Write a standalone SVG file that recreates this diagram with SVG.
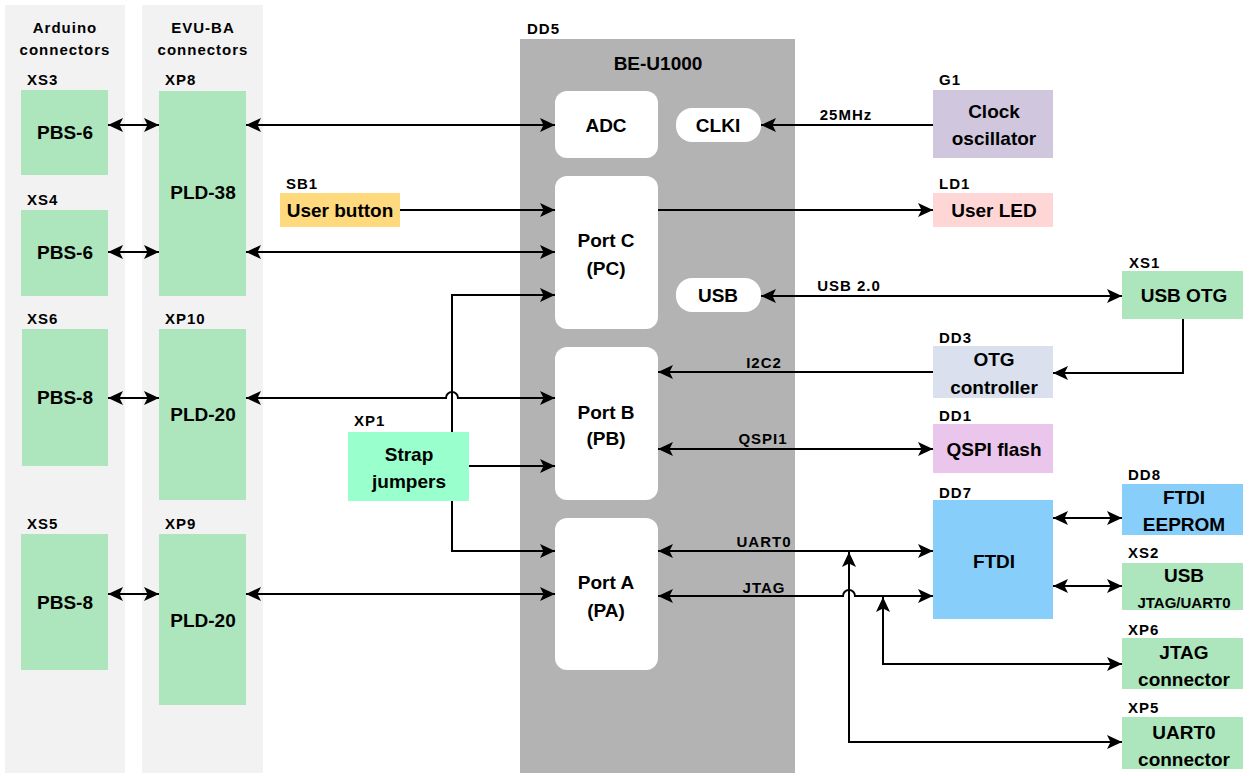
<svg xmlns="http://www.w3.org/2000/svg" width="1249" height="776" viewBox="0 0 1249 776">
<style>
text{font-family:"Liberation Sans",Arial,sans-serif;font-weight:bold;fill:#000}
.lbl{font-size:15px;letter-spacing:1px}
.t{font-size:19px;text-anchor:middle}
.ts{font-size:15px;text-anchor:middle}
.el{font-size:15px;letter-spacing:1px;text-anchor:middle}
.panel{fill:#f2f2f2}
.g{fill:#ade6bd}
.blk{fill:#fff}
.ln{fill:none;stroke:#000;stroke-width:2}
.a2{marker-start:url(#ah);marker-end:url(#ah)}
.a1{marker-end:url(#ah)}
</style>
<defs>
<marker id="ah" markerUnits="userSpaceOnUse" markerWidth="16" markerHeight="16" refX="15" refY="7" orient="auto-start-reverse" viewBox="0 0 16 14">
<path d="M0,0 L15,7 L0,14 L3.5,7 z" fill="#000"/>
</marker>
</defs>
<rect width="1249" height="776" fill="#fff"/>

<g id="panel-arduino">
<rect class="panel" x="5" y="5" width="120" height="768"/>
<text class="lbl" x="65" y="33" text-anchor="middle">Arduino</text>
<text class="lbl" x="65" y="55" text-anchor="middle">connectors</text>
</g>
<g id="panel-evu">
<rect class="panel" x="142" y="5" width="121" height="768"/>
<text class="lbl" x="203" y="33" text-anchor="middle">EVU-BA</text>
<text class="lbl" x="203" y="55" text-anchor="middle">connectors</text>
</g>

<g id="XS3"><text class="lbl" x="27" y="85">XS3</text><rect class="g" x="21" y="90" width="87" height="85"/><text class="t" x="65" y="139">PBS-6</text></g>
<g id="XS4"><text class="lbl" x="27" y="205">XS4</text><rect class="g" x="21" y="210" width="87" height="86"/><text class="t" x="65" y="259">PBS-6</text></g>
<g id="XS6"><text class="lbl" x="27" y="324">XS6</text><rect class="g" x="22" y="329" width="86" height="137"/><text class="t" x="65" y="404">PBS-8</text></g>
<g id="XS5"><text class="lbl" x="27" y="529">XS5</text><rect class="g" x="21" y="534" width="87" height="136"/><text class="t" x="65" y="609">PBS-8</text></g>

<g id="XP8"><text class="lbl" x="165" y="85">XP8</text><rect class="g" x="159" y="91" width="87" height="205"/><text class="t" x="203" y="199">PLD-38</text></g>
<g id="XP10"><text class="lbl" x="165" y="324">XP10</text><rect class="g" x="159" y="329" width="87" height="171"/><text class="t" x="203" y="421">PLD-20</text></g>
<g id="XP9"><text class="lbl" x="165" y="529">XP9</text><rect class="g" x="159" y="534" width="87" height="171"/><text class="t" x="203" y="627">PLD-20</text></g>

<g id="DD5">
<text class="lbl" x="527" y="34">DD5</text>
<rect x="520" y="39" width="275" height="734" fill="#b3b3b3"/>
<text x="658" y="70" font-size="19" text-anchor="middle">BE-U1000</text>
</g>
<g id="ADC"><rect class="blk" x="555" y="91" width="103" height="67" rx="12"/><text class="t" x="606" y="132">ADC</text></g>
<g id="CLKI"><rect class="blk" x="676" y="108" width="85" height="34" rx="16"/><text class="t" x="718" y="132">CLKI</text></g>
<g id="PortC"><rect class="blk" x="555" y="176" width="103" height="153" rx="12"/><text class="t" x="606" y="247">Port C</text><text class="t" x="606" y="275">(PC)</text></g>
<g id="USB"><rect class="blk" x="676" y="278" width="85" height="34" rx="16"/><text class="t" x="718" y="302">USB</text></g>
<g id="PortB"><rect class="blk" x="555" y="347" width="103" height="153" rx="12"/><text class="t" x="606" y="419">Port B</text><text class="t" x="606" y="445">(PB)</text></g>
<g id="PortA"><rect class="blk" x="555" y="518" width="103" height="152" rx="12"/><text class="t" x="606" y="589">Port A</text><text class="t" x="606" y="617">(PA)</text></g>

<g id="SB1"><text class="lbl" x="286" y="189">SB1</text><rect x="280" y="193" width="120" height="34" fill="#ffd97e"/><text class="t" x="340" y="217">User button</text></g>
<g id="XP1"><text class="lbl" x="354" y="426">XP1</text><rect x="348" y="432" width="121" height="69" fill="#99ffcc"/><text class="t" x="409" y="461">Strap</text><text class="t" x="409" y="488">jumpers</text></g>

<g id="G1"><text class="lbl" x="939" y="85">G1</text><rect x="933" y="90" width="120" height="68" fill="#d0c7de"/><text class="t" x="994" y="118">Clock</text><text class="t" x="994" y="145">oscillator</text></g>
<g id="LD1"><text class="lbl" x="939" y="189">LD1</text><rect x="933" y="193" width="120" height="34" fill="#ffd6d6"/><text class="t" x="994" y="217">User LED</text></g>
<g id="XS1"><text class="lbl" x="1129" y="268">XS1</text><rect class="g" x="1122" y="271" width="121" height="48"/><text class="t" x="1184" y="302">USB OTG</text></g>
<g id="DD3"><text class="lbl" x="939" y="343">DD3</text><rect x="933" y="346" width="120" height="52" fill="#dae0ee"/><text class="t" x="994" y="366">OTG</text><text class="t" x="994" y="394">controller</text></g>
<g id="DD1"><text class="lbl" x="939" y="421">DD1</text><rect x="933" y="424" width="120" height="49" fill="#eac6ec"/><text class="t" x="994" y="456">QSPI flash</text></g>
<g id="DD7"><text class="lbl" x="939" y="498">DD7</text><rect x="933" y="500" width="120" height="119" fill="#87cefa"/><text class="t" x="994" y="568">FTDI</text></g>
<g id="DD8"><text class="lbl" x="1128" y="480">DD8</text><rect x="1122" y="484" width="121" height="51" fill="#87cefa"/><text class="t" x="1184" y="504">FTDI</text><text class="t" x="1184" y="531">EEPROM</text></g>
<g id="XS2"><text class="lbl" x="1128" y="558">XS2</text><rect class="g" x="1122" y="563" width="121" height="47"/><text class="t" x="1184" y="582">USB</text><text class="ts" x="1184" y="608">JTAG/UART0</text></g>
<g id="XP6"><text class="lbl" x="1128" y="635">XP6</text><rect class="g" x="1122" y="638" width="121" height="51"/><text class="t" x="1184" y="659">JTAG</text><text class="t" x="1184" y="686">connector</text></g>
<g id="XP5"><text class="lbl" x="1128" y="713">XP5</text><rect class="g" x="1122" y="717" width="121" height="52"/><text class="t" x="1184" y="739">UART0</text><text class="t" x="1184" y="766">connector</text></g>

<g id="connectors">
<path class="ln a2" d="M108,125 H159"/>
<path class="ln a2" d="M108,252 H159"/>
<path class="ln a2" d="M108,398 H159"/>
<path class="ln a2" d="M108,594 H159"/>
<path class="ln a2" d="M246,125 H555"/>
<path class="ln a2" d="M246,252 H555"/>
<path class="ln a2" d="M246,398 H446 A6,6 0 0 1 458,398 H555"/>
<path class="ln a2" d="M246,594 H555"/>
<path class="ln a1" d="M400,210 H555"/>
<path class="ln a1" d="M452,432 V295 H555"/>
<path class="ln a1" d="M469,466 H555"/>
<path class="ln a1" d="M452,501 V551 H555"/>
<path class="ln a1" d="M933,125 H761"/>
<path class="ln a1" d="M658,210 H933"/>
<path class="ln a2" d="M761,296 H1122"/>
<path class="ln a1" d="M1183,319 V373 H1053"/>
<path class="ln a1" d="M933,372 H658"/>
<path class="ln a2" d="M658,449 H933"/>
<path class="ln a2" d="M658,551 H933"/>
<path class="ln a2" d="M658,596 H843 A6,6 0 0 1 855,596 H933"/>
<path class="ln a2" d="M1122,742 H849 V552"/>
<path class="ln a2" d="M1122,664 H883 V597"/>
<path class="ln a2" d="M1053,518 H1122"/>
<path class="ln a2" d="M1053,586 H1122"/>
<text class="el" x="846" y="120">25MHz</text>
<text class="el" x="849" y="291">USB 2.0</text>
<text class="el" x="764" y="368">I2C2</text>
<text class="el" x="763" y="444">QSPI1</text>
<text class="el" x="764" y="547">UART0</text>
<text class="el" x="764" y="593">JTAG</text>
</g>
</svg>
